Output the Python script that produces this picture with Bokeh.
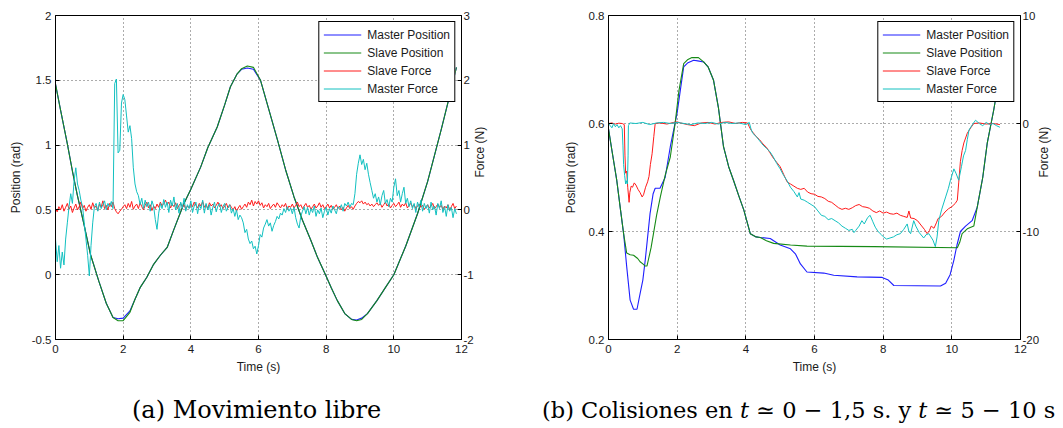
import math
import numpy as np
from bokeh.plotting import figure
from bokeh.models import Range1d, LinearAxis, FixedTicker, Div
from bokeh.layouts import row, column
from bokeh.embed import file_html
from bokeh.resources import INLINE

# ---------------- data ----------------
x_ticks = [0, 2, 4, 6, 8, 10, 12]
x_labels = ["0", "2", "4", "6", "8", "10", "12"]

a_pos_ticks = [-0.5, 0, 0.5, 1, 1.5, 2]
a_pos_labels = ["-0.5", "0", "0.5", "1", "1.5", "2"]
a_force_ticks = [-2, -1, 0, 1, 2, 3]
a_force_labels = ["-2", "-1", "0", "1", "2", "3"]

b_pos_ticks = [0.2, 0.4, 0.6, 0.8]
b_pos_labels = ["0.2", "0.4", "0.6", "0.8"]
b_force_ticks = [-20, -10, 0, 10]
b_force_labels = ["-20", "-10", "0", "10"]

series_names = ["Master Position", "Slave Position", "Slave Force", "Master Force"]
captions = ["(a) Movimiento libre",
            "(b) Colisiones en t \u2243 0 \u2212 1,5 s. y t \u2243 5 \u2212 10 s"]

# (a) free motion - positions (rad)
a_pos_t = [0, 0.15, 0.35, 0.5, 0.64, 0.84, 1.03, 1.28, 1.5, 1.7, 1.85, 2.0, 2.2, 2.35,
           2.5, 2.7, 2.9, 3.1, 3.3, 3.5, 3.79, 4.0, 4.29, 4.5, 4.78, 5.0, 5.17, 5.37,
           5.5, 5.67, 5.85, 6.06, 6.3, 6.56, 6.8, 7.05, 7.3, 7.54, 7.75, 7.98, 8.15,
           8.33, 8.55, 8.75, 8.9, 9.05, 9.22, 9.5, 9.75, 10.0, 10.35, 10.7, 11.0,
           11.19, 11.4, 11.63, 11.85]
a_slave_pos = [1.47, 1.27, 1.01, 0.80, 0.62, 0.39, 0.16, -0.05, -0.22, -0.33, -0.355,
               -0.355, -0.29, -0.19, -0.10, -0.02, 0.08, 0.15, 0.21, 0.35, 0.545, 0.66,
               0.83, 0.98, 1.14, 1.31, 1.45, 1.55, 1.59, 1.61, 1.60, 1.50, 1.28, 1.04,
               0.81, 0.60, 0.42, 0.27, 0.13, 0.0, -0.10, -0.20, -0.30, -0.345, -0.355,
               -0.345, -0.30, -0.20, -0.10, 0.0, 0.22, 0.47, 0.72, 0.91, 1.12, 1.36, 1.60]
a_master_pos = [1.47, 1.27, 1.01, 0.80, 0.62, 0.39, 0.16, -0.05, -0.22, -0.33, -0.34,
                -0.335, -0.28, -0.19, -0.10, -0.02, 0.08, 0.15, 0.21, 0.35, 0.545, 0.66,
                0.83, 0.98, 1.14, 1.31, 1.45, 1.55, 1.585, 1.595, 1.585, 1.50, 1.28, 1.04,
                0.81, 0.60, 0.42, 0.27, 0.13, 0.0, -0.10, -0.20, -0.30, -0.345, -0.35,
                -0.335, -0.30, -0.20, -0.10, 0.0, 0.22, 0.47, 0.72, 0.91, 1.12, 1.36, 1.60]

# (a) forces (N), sampled every 0.05 s
a_master_force = [
    -0.45, -0.80, -0.55, -0.90, -0.65, -0.85, -0.45, -0.20, 0.05, 0.25, 0.10, 0.45, 0.65, 0.40, 0.30, 0.15, 0.05, -0.20, -0.45, -0.70,
    -1.02, -0.55, -0.20, 0.05, 0.10, -0.02, 0.12, 0.02, 0.08, 0.14, 0.00, 0.10, 0.05, 0.13, 0.02, 1.95, 2.02, 0.88, 0.92, 1.65,
    1.78, 1.70, 1.45, 1.20, 1.30, 1.10, 0.65, 0.40, 0.28, 0.22, 0.08, 0.18, 0.02, 0.15, 0.05, 0.12, -0.02, 0.14, 0.06, -0.15,
    -0.30, -0.05, 0.10, 0.02, 0.16, 0.04, 0.12, -0.04, 0.15, 0.06, 0.20, 0.00, 0.10, -0.05, 0.12, 0.03, 0.18, -0.02, 0.08, 0.02,
    0.14, -0.04, 0.06, 0.12, -0.06, 0.08, 0.02, 0.15, -0.05, 0.10, 0.00, 0.08, -0.08, 0.04, 0.12, -0.03, 0.06, 0.10, -0.04, 0.05,
    0.10, -0.02, 0.04, 0.08, -0.05, 0.02, -0.10, 0.00, -0.15, -0.08, -0.12, -0.20, -0.35, -0.30, -0.45, -0.52, -0.48, -0.60, -0.56, -0.68,
    -0.55, -0.38, -0.42, -0.28, -0.22, -0.15, -0.25, -0.20, -0.33, -0.24, -0.18, -0.10, -0.14, -0.05, -0.08, 0.02, -0.04, 0.05, -0.02, 0.03,
    -0.06, 0.04, -0.12, -0.22, -0.28, -0.10, -0.02, 0.05, -0.06, 0.04, -0.08, 0.02, -0.04, 0.06, -0.10, 0.00, -0.06, 0.03, -0.12, -0.02,
    0.04, -0.08, 0.02, -0.05, 0.06, 0.00, -0.06, 0.05, 0.02, 0.08, -0.02, 0.10, 0.06, 0.12, 0.04, 0.10, 0.08, 0.25, 0.55, 0.72,
    0.85, 0.70, 0.78, 0.62, 0.72, 0.55, 0.42, 0.30, 0.18, 0.25, 0.12, 0.20, 0.08, 0.22, 0.30, 0.10, 0.16, 0.05, 0.18, 0.12,
    0.35, 0.48, 0.22, 0.30, 0.12, 0.25, 0.35, 0.10, 0.18, 0.05, 0.14, 0.02, 0.10, -0.04, 0.12, 0.04, 0.15, -0.02, 0.10, 0.02,
    0.08, -0.05, 0.12, 0.00, 0.06, -0.08, 0.10, 0.02, 0.14, -0.04, 0.05, -0.10, 0.08, -0.02, 0.04, -0.12, 0.02, -0.06]
a_slave_force = [
    0.02, -0.03, 0.05, 0.00, 0.08, -0.02, 0.04, 0.10, 0.01, 0.06, -0.04, 0.03, 0.09, 0.00, 0.05, 0.12, 0.02, 0.07, -0.02, 0.04,
    0.08, 0.01, 0.11, 0.03, 0.06, -0.01, 0.09, 0.04, 0.14, 0.02, 0.07, 0.00, 0.10, 0.05, 0.12, 0.02, -0.03, -0.06, -0.02, 0.01,
    0.05, 0.08, 0.02, 0.10, 0.04, 0.13, 0.01, 0.06, 0.09, 0.02, 0.11, 0.05, 0.00, 0.07, 0.12, 0.03, 0.08, -0.01, 0.06, 0.02,
    0.09, 0.04, 0.12, 0.06, 0.10, 0.15, 0.08, 0.12, 0.03, 0.09, 0.05, 0.11, 0.02, 0.07, 0.10, 0.04, 0.08, 0.01, 0.06, 0.03,
    0.09, 0.05, 0.12, 0.07, 0.03, 0.10, 0.06, 0.13, 0.04, 0.08, 0.02, 0.11, 0.06, 0.09, 0.03, 0.07, 0.12, 0.05, 0.08, 0.02,
    0.06, 0.10, 0.03, 0.08, 0.04, 0.00, 0.05, -0.02, 0.03, 0.07, 0.01, 0.05, 0.09, 0.04, 0.12, 0.08, 0.15, 0.06, 0.13, 0.09,
    0.14, 0.07, 0.11, 0.03, 0.08, 0.05, 0.10, 0.02, 0.06, 0.09, 0.04, 0.11, 0.07, 0.03, 0.08, 0.05, 0.10, 0.01, 0.06, 0.04,
    0.09, 0.03, 0.07, 0.12, 0.05, 0.08, 0.02, 0.06, 0.10, 0.04, 0.07, 0.01, 0.05, 0.09, 0.03, 0.06, 0.11, 0.04, 0.08, 0.02,
    0.05, 0.09, 0.03, 0.07, 0.01, 0.04, 0.08, 0.02, 0.06, 0.00, 0.04, -0.02, 0.03, 0.07, 0.02, 0.05, 0.01, 0.06, 0.10, 0.13,
    0.11, 0.14, 0.09, 0.12, 0.08, 0.10, 0.06, 0.09, 0.05, 0.08, 0.11, 0.07, 0.10, 0.04, 0.08, 0.12, 0.06, 0.09, 0.03, 0.07,
    0.10, 0.05, 0.08, 0.12, 0.04, 0.09, 0.06, 0.11, 0.03, 0.07, 0.10, 0.05, 0.08, 0.02, 0.06, 0.09, 0.04, 0.07, 0.01, 0.05,
    0.08, 0.03, 0.06, 0.10, 0.02, 0.05, 0.09, 0.04, 0.07, 0.01, 0.06, 0.03, 0.08, 0.00, 0.05, 0.10, 0.02, 0.06]
a_force_dt = 0.05

# (b) collisions - positions (rad)
b_master_t = [0, 0.1, 0.24, 0.35, 0.44, 0.53, 0.63, 0.73, 0.83, 0.92, 1.0, 1.07, 1.14, 1.21,
              1.3, 1.36, 1.5, 1.65, 1.8, 2.0, 2.1, 2.19, 2.3, 2.48, 2.6, 2.77, 2.9, 3.06,
              3.2, 3.35, 3.5, 3.64, 3.8, 3.94, 4.13, 4.3, 4.42, 4.71, 5.0, 5.3, 5.45, 5.59,
              5.78, 6.27, 6.56, 7.24, 7.97, 8.15, 8.31, 9.67, 9.82, 9.95, 10.06, 10.15,
              10.25, 10.4, 10.59, 10.74, 10.9, 11.03, 11.22, 11.32, 11.45]
b_master_pos = [0.59, 0.55, 0.495, 0.44, 0.396, 0.335, 0.273, 0.256, 0.256, 0.285, 0.31,
                0.347, 0.39, 0.433, 0.47, 0.48, 0.48, 0.50, 0.557, 0.62, 0.665, 0.705,
                0.712, 0.717, 0.716, 0.714, 0.705, 0.68, 0.63, 0.557, 0.52, 0.495, 0.465,
                0.44, 0.396, 0.39, 0.389, 0.387, 0.375, 0.368, 0.358, 0.34, 0.325, 0.323,
                0.319, 0.316, 0.315, 0.31, 0.30, 0.299, 0.304, 0.32, 0.347, 0.375, 0.40,
                0.41, 0.42, 0.445, 0.50, 0.563, 0.625, 0.662, 0.73]
b_slave_t = [0, 0.1, 0.24, 0.35, 0.44, 0.53, 0.63, 0.73, 0.85, 0.92, 1.0, 1.07, 1.12, 1.17,
             1.24, 1.31, 1.4, 1.51, 1.65, 1.8, 1.94, 2.05, 2.19, 2.3, 2.43, 2.62, 2.77,
             2.9, 3.06, 3.2, 3.35, 3.5, 3.64, 3.8, 3.94, 4.13, 4.3, 4.42, 4.6, 4.81, 5.3,
             5.78, 7.73, 10.16, 10.23, 10.3, 10.45, 10.64, 10.74, 10.9, 11.03, 11.22,
             11.32, 11.45]
b_slave_pos = [0.59, 0.55, 0.495, 0.44, 0.396, 0.36, 0.357, 0.356, 0.35, 0.344, 0.34,
               0.336, 0.336, 0.35, 0.37, 0.396, 0.43, 0.464, 0.504, 0.538, 0.60, 0.66,
               0.711, 0.718, 0.722, 0.722, 0.714, 0.705, 0.68, 0.63, 0.557, 0.52, 0.495,
               0.465, 0.44, 0.396, 0.39, 0.389, 0.383, 0.378, 0.375, 0.373, 0.372, 0.37,
               0.38, 0.396, 0.405, 0.41, 0.445, 0.50, 0.563, 0.625, 0.662, 0.73]

# (b) forces (N)
b_slave_force_t = [0, 0.1, 0.2, 0.3, 0.4, 0.46, 0.48, 0.5, 0.53, 0.56, 0.6, 0.62, 0.66, 0.7,
                   0.75, 0.8, 0.86, 0.92, 0.98, 1.02, 1.08, 1.14, 1.18, 1.22, 1.27, 1.32,
                   1.36, 1.5, 1.7, 1.9, 2.0, 2.1, 2.3, 2.5, 2.7, 2.9, 3.1, 3.3, 3.5, 3.7,
                   3.9, 4.05, 4.1, 4.15, 4.2, 4.3, 4.4, 4.5, 4.6, 4.7, 4.8, 4.9, 5.0, 5.1,
                   5.2, 5.3, 5.4, 5.5, 5.6, 5.7, 5.8, 5.9, 6.0, 6.1, 6.2, 6.3, 6.4, 6.5,
                   6.6, 6.7, 6.8, 6.9, 7.0, 7.1, 7.2, 7.3, 7.4, 7.5, 7.6, 7.7, 7.8, 7.9,
                   8.0, 8.1, 8.2, 8.3, 8.4, 8.5, 8.6, 8.7, 8.75, 8.8, 8.9, 9.0, 9.1, 9.2,
                   9.28, 9.35, 9.4, 9.48, 9.55, 9.6, 9.7, 9.8, 9.9, 10.0, 10.1, 10.16,
                   10.2, 10.25, 10.3, 10.35, 10.45, 10.55, 10.64, 10.8, 11.0, 11.2, 11.4]
b_slave_force = [0, 0.05, -0.05, 0.03, 0, -0.1, -3.0, -4.6, -4.4, -5.9, -7.3, -6.4, -5.8,
                 -5.9, -5.5, -5.7, -6.1, -6.4, -6.8, -6.6, -5.9, -5.4, -4.9, -3.8, -2.8,
                 -1.2, 0, 0.05, -0.05, 0.1, 0.15, 0.05, -0.1, -0.2, 0.05, 0.1, -0.05, 0.1,
                 0.15, 0.0, 0.1, 0.05, -0.3, -0.6, -0.8, -1.2, -1.5, -1.9, -2.2, -2.7,
                 -3.2, -3.6, -4.0, -4.7, -5.4, -5.6, -5.8, -6.0, -6.1, -6.0, -6.35, -6.5,
                 -6.55, -6.75, -6.8, -6.95, -7.2, -7.3, -7.55, -7.8, -7.95, -7.85, -7.95,
                 -7.8, -7.6, -7.5, -7.7, -7.75, -7.85, -8.1, -8.25, -8.1, -8.3, -8.2,
                 -8.35, -8.4, -8.3, -8.5, -8.6, -8.7, -8.1, -8.75, -8.8, -9.0, -9.4, -9.8,
                 -10.2, -9.9, -9.5, -9.7, -9.2, -8.8, -8.6, -8.2, -7.9, -7.7, -7.4, -7.1,
                 -5.5, -3.5, -2.5, -1.8, -0.9, -0.4, 0, 0.05, -0.05, 0.0, -0.1]
b_master_force_t = [0, 0.05, 0.1, 0.15, 0.2, 0.25, 0.3, 0.35, 0.4, 0.42, 0.44, 0.47, 0.5,
                    0.52, 0.55, 0.57, 0.58, 0.62, 0.8, 1.0, 1.2, 1.4, 1.6, 1.8, 2.0, 2.2,
                    2.4, 2.6, 2.8, 3.0, 3.2, 3.4, 3.6, 3.8, 4.0, 4.1, 4.15, 4.2, 4.3, 4.4,
                    4.5, 4.6, 4.7, 4.8, 4.9, 5.0, 5.1, 5.2, 5.3, 5.4, 5.5, 5.55, 5.6, 5.7,
                    5.8, 5.9, 6.0, 6.1, 6.2, 6.3, 6.4, 6.5, 6.6, 6.7, 6.8, 6.9, 7.0, 7.1,
                    7.15, 7.2, 7.3, 7.38, 7.45, 7.55, 7.62, 7.7, 7.77, 7.85, 7.95, 8.01,
                    8.1, 8.2, 8.3, 8.4, 8.5, 8.6, 8.7, 8.75, 8.8, 8.89, 8.95, 9.05, 9.18,
                    9.25, 9.33, 9.45, 9.52, 9.57, 9.62, 9.7, 9.82, 9.9, 9.96, 10.06, 10.12,
                    10.2, 10.28, 10.34, 10.4, 10.45, 10.5, 10.6, 10.69, 10.8, 10.9, 11.0,
                    11.1, 11.2, 11.3, 11.4]
b_master_force = [0, -0.2, -0.4, 0.0, -0.3, -0.1, -0.4, -0.2, -0.5, -2.0, -3.8, -4.8, -5.6,
                  -5.3, -5.6, -3.0, -0.2, 0.05, 0.0, 0.1, -0.1, 0.05, 0.1, 0.0, 0.1, 0.0,
                  -0.1, 0.05, 0.0, 0.1, -0.05, 0.1, 0.0, 0.05, -0.1, 0.1, -0.5, -0.9, -1.2,
                  -1.6, -2.0, -2.3, -2.6, -3.1, -3.7, -4.2, -4.8, -5.3, -5.9, -6.3, -6.8,
                  -6.4, -7.0, -7.1, -7.3, -7.5, -7.7, -8.1, -8.5, -8.6, -8.9, -8.8, -9.0,
                  -9.2, -9.5, -9.7, -9.9, -9.8, -10.1, -9.9, -9.5, -9.0, -9.3, -8.7, -8.5,
                  -9.1, -9.6, -10.0, -10.3, -10.5, -10.7, -10.6, -10.5, -10.3, -10.2, -9.8,
                  -9.3, -10.0, -10.2, -9.0, -9.5, -10.1, -10.6, -10.3, -10.2, -10.8, -11.4,
                  -10.5, -9.0, -8.0, -6.8, -6.0, -5.25, -4.2, -4.6, -5.25, -4.0, -3.0,
                  -2.5, -1.5, -0.6, -0.1, 0.3, 0.0, -0.2, 0.1, -0.1, 0.0, -0.2, -0.35]

# ---------------- styling ----------------
BLUE = "#1f1fff"
GREEN = "#168a16"
RED = "#ff1a1a"
CYAN = "#12c0c0"
TXT = "#1a1a1a"
SANS = "Liberation Sans"
PLOT_H = 380


def style_axis(ax, ticks, labels, label, label_standoff, tick_standoff):
    ax.ticker = FixedTicker(ticks=ticks)
    ax.major_label_overrides = {t: s for t, s in zip(ticks, labels)}
    ax.axis_label = label
    ax.axis_label_text_font = SANS
    ax.axis_label_text_font_size = "12px"
    ax.axis_label_text_font_style = "normal"
    ax.axis_label_text_color = TXT
    ax.axis_label_standoff = label_standoff
    ax.major_label_text_font = SANS
    ax.major_label_text_font_size = "11.5px"
    ax.major_label_text_color = TXT
    ax.major_label_standoff = tick_standoff
    ax.major_tick_in = 4
    ax.major_tick_out = 0
    ax.minor_tick_in = 0
    ax.minor_tick_out = 0
    ax.axis_line_color = "black"
    ax.major_tick_line_color = "black"


def make_panel(width, border_left, border_right, pos_range, force_range,
               pos_ticks, pos_labels, force_ticks, force_labels,
               left_std, right_std):
    p = figure(width=width, height=PLOT_H, x_range=Range1d(0, 12),
               y_range=Range1d(*pos_range), output_backend="svg",
               toolbar_location=None, min_border_left=border_left,
               min_border_right=border_right, min_border_top=15,
               min_border_bottom=PLOT_H - 339)
    p.extra_y_ranges = {"force": Range1d(*force_range)}
    p.background_fill_color = "white"
    p.border_fill_color = "white"
    p.outline_line_color = "black"
    p.outline_line_alpha = 1
    p.outline_line_width = 1

    style_axis(p.xaxis[0], x_ticks, x_labels, "Time (s)", 4, 5)
    style_axis(p.yaxis[0], pos_ticks, pos_labels, "Position (rad)", left_std, 4)
    rax = LinearAxis(y_range_name="force")
    style_axis(rax, force_ticks, force_labels, "Force (N)", right_std, 2)
    rax.axis_label_orientation = math.pi / 2
    p.add_layout(rax, "right")

    p.xgrid.ticker = FixedTicker(ticks=x_ticks)
    p.ygrid.ticker = FixedTicker(ticks=pos_ticks)
    for g in (p.xgrid[0], p.ygrid[0]):
        g.grid_line_color = "#303030"
        g.grid_line_alpha = 0.8
        g.grid_line_dash = "1 3"
        g.grid_line_width = 1
    return p


def finish_legend(p):
    lg = p.legend[0]
    lg.location = "top_right"
    lg.margin = 6
    lg.padding = 4
    lg.spacing = 1
    lg.glyph_width = 38
    lg.glyph_height = 17
    lg.label_height = 17
    lg.label_standoff = 6
    lg.label_text_font = SANS
    lg.label_text_font_size = "12px"
    lg.label_text_color = TXT
    lg.border_line_color = "black"
    lg.border_line_width = 1
    lg.border_line_alpha = 1
    lg.background_fill_alpha = 1


def caption_div(text, width, pad_left, size):
    html = text.replace(" t ", " <i>t</i> ")
    style = ("padding:17px 0 0 %dpx; margin:0; font-family:'DejaVu Serif'; "
             "font-size:%spx; line-height:27px; white-space:nowrap; color:#000;"
             % (pad_left, size))
    return Div(text='<div style="%s">%s</div>' % (style, html), width=width,
               height=428 - PLOT_H, margin=0)


# ---------------- panel (a) ----------------
pa = make_panel(530, 55, 69, (-0.5, 2), (-2, 3), a_pos_ticks, a_pos_labels,
                a_force_ticks, a_force_labels, 6, 3)
a_mf_t = np.round(np.arange(len(a_master_force)) * a_force_dt, 2)
a_sf_t = np.round(np.arange(len(a_slave_force)) * a_force_dt, 2)
pa.line(a_pos_t, a_master_pos, line_color=BLUE, line_width=1.1, legend_label=series_names[0])
pa.line(a_pos_t, a_slave_pos, line_color=GREEN, line_width=1.1, legend_label=series_names[1])
pa.line(a_sf_t, a_slave_force, line_color=RED, line_width=1, y_range_name="force",
        legend_label=series_names[2])
pa.line(a_mf_t, a_master_force, line_color=CYAN, line_width=1, y_range_name="force",
        legend_label=series_names[3])
finish_legend(pa)

# ---------------- panel (b) ----------------
pb = make_panel(533, 78, 43, (0.2, 0.8), (-20, 10), b_pos_ticks, b_pos_labels,
                b_force_ticks, b_force_labels, 8, 2)
pb.line(b_master_t, b_master_pos, line_color=BLUE, line_width=1.1, legend_label=series_names[0])
pb.line(b_slave_t, b_slave_pos, line_color=GREEN, line_width=1.1, legend_label=series_names[1])
pb.line(b_slave_force_t, b_slave_force, line_color=RED, line_width=1, y_range_name="force",
        legend_label=series_names[2])
pb.line(b_master_force_t, b_master_force, line_color=CYAN, line_width=1, y_range_name="force",
        legend_label=series_names[3])
finish_legend(pb)

da = caption_div(captions[0], 530, 132, 24)
db = caption_div(captions[1], 533, 12, 22.5)

layout = column(row(pa, pb), row(da, db))
open("out.html", "w").write(file_html(layout, INLINE))
